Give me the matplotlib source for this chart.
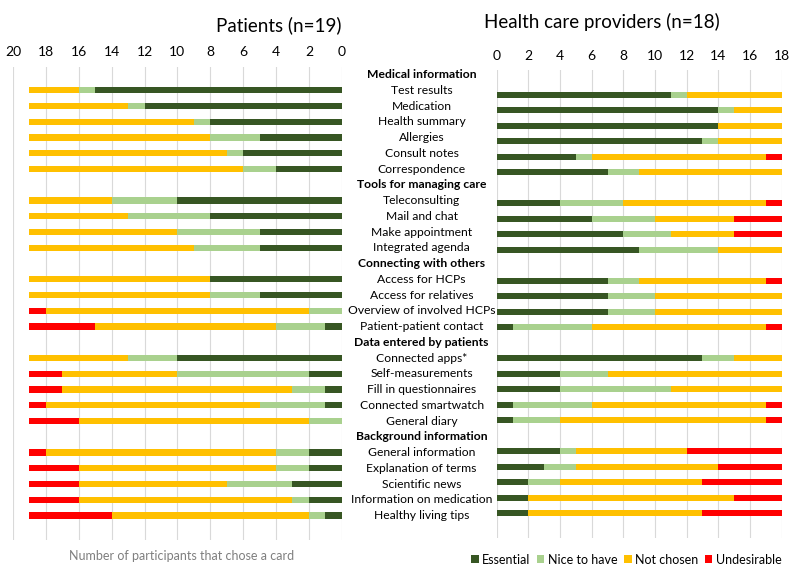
import matplotlib.pyplot as plt
from matplotlib.patches import Patch
from matplotlib.transforms import blended_transform_factory

plt.rcParams["font.family"] = ["Lato", "DejaVu Sans"]

groups = [
    "Medical information",
    "Tools for managing care",
    "Connecting with others",
    "Data entered by patients",
    "Background information",
]
items = [
    ["Test results", "Medication", "Health summary", "Allergies", "Consult notes", "Correspondence"],
    ["Teleconsulting", "Mail and chat", "Make appointment", "Integrated agenda"],
    ["Access for HCPs", "Access for relatives", "Overview of involved HCPs", "Patient-patient contact"],
    ["Connected apps*", "Self-measurements", "Fill in questionnaires", "Connected smartwatch", "General diary"],
    ["General information", "Explanation of terms", "Scientific news", "Information on medication", "Healthy living tips"],
]

# patients (n=19), one value per item in the order above
pat_essential = [15, 12, 8, 5, 6, 4, 10, 8, 5, 5, 8, 5, 0, 1, 10, 2, 1, 1, 0, 2, 2, 3, 2, 1]
pat_nice = [1, 1, 1, 3, 1, 2, 4, 5, 5, 4, 0, 3, 2, 3, 3, 8, 2, 4, 2, 2, 2, 4, 1, 1]
pat_notchosen = [3, 6, 10, 11, 12, 13, 5, 6, 9, 10, 11, 11, 16, 11, 6, 7, 14, 13, 14, 14, 12, 9, 13, 12]
pat_undesirable = [0, 0, 0, 0, 0, 0, 0, 0, 0, 0, 0, 0, 1, 4, 0, 2, 2, 1, 3, 1, 3, 3, 3, 5]

# health care providers (n=18)
hcp_essential = [11, 14, 14, 13, 5, 7, 4, 6, 8, 9, 7, 7, 7, 1, 13, 4, 4, 1, 1, 4, 3, 2, 2, 2]
hcp_nice = [1, 1, 0, 1, 1, 2, 4, 4, 3, 5, 2, 3, 3, 5, 2, 3, 7, 5, 3, 1, 2, 2, 0, 0]
hcp_notchosen = [6, 3, 4, 4, 11, 9, 9, 5, 4, 4, 8, 8, 8, 11, 3, 11, 7, 11, 13, 7, 9, 9, 13, 11]
hcp_undesirable = [0, 0, 0, 0, 1, 0, 1, 3, 3, 0, 1, 0, 0, 1, 0, 0, 0, 1, 1, 6, 4, 5, 3, 5]

colors = ["#375623", "#a9d18e", "#ffc000", "#ff0000"]
names = ["Essential", "Nice to have", "Not chosen", "Undesirable"]

# row positions: each group header takes a row, items follow
labels = []
bold = []
item_rows = []
row = 0
for g, its in zip(groups, items):
    labels.append(g)
    bold.append(True)
    row += 1
    for it in its:
        labels.append(it)
        bold.append(False)
        item_rows.append(row)
        row += 1


def stacked(ax, series):
    left = [0] * len(item_rows)
    for vals, c in zip(series, colors):
        ax.barh(item_rows, vals, left=left, height=0.4, color=c, edgecolor="none", zorder=3)
        left = [a + b for a, b in zip(left, vals)]


def style(ax, xmax):
    ax.xaxis.tick_top()
    ax.set_xticks(range(0, xmax + 1, 2))
    ax.tick_params(axis="x", length=0, labelsize=10, pad=6)
    ax.set_yticks([])
    ax.grid(axis="x", color="#d9d9d9", linewidth=0.8, zorder=0)
    for s in ax.spines.values():
        s.set_visible(False)


fig = plt.figure(figsize=(8, 5.7), dpi=100)

ax1 = fig.add_axes([0.01625, 0.0526, 0.411, 0.8305])
stacked(ax1, [pat_essential, pat_nice, pat_notchosen, pat_undesirable])
style(ax1, 20)
ax1.set_xlim(20, 0)
ax1.set_ylim(29.55, -0.5)

ax2 = fig.add_axes([0.621, 0.0561, 0.356, 0.8211])
stacked(ax2, [hcp_essential, hcp_nice, hcp_notchosen, hcp_undesirable])
style(ax2, 18)
ax2.set_xlim(0, 18)
ax2.set_ylim(29.6, -0.6)

fig.text(0.4275, 0.955, "Patients (n=19)", ha="right", va="center", fontsize=13.5)
fig.text(0.605, 0.962, "Health care providers (n=18)", ha="left", va="center", fontsize=13.5)

tr = blended_transform_factory(fig.transFigure, ax1.transData)
for i, (lab, b) in enumerate(zip(labels, bold)):
    fig.text(0.527, i, lab, transform=tr, ha="center", va="center", fontsize=8.7,
             fontweight="bold" if b else "normal", zorder=5)

fig.text(0.227, 0.024, "Number of participants that chose a card", ha="center",
         va="center", fontsize=9, color="#7f7f7f")

handles = [Patch(facecolor=c, edgecolor="none") for c in colors]
fig.legend(handles, names, loc="center right", bbox_to_anchor=(0.985, 0.018), ncol=4,
           frameon=False, fontsize=9, handlelength=0.6, handleheight=0.6,
           handletextpad=0.3, columnspacing=0.5, borderpad=0)

fig.savefig("out.png", dpi=100)
